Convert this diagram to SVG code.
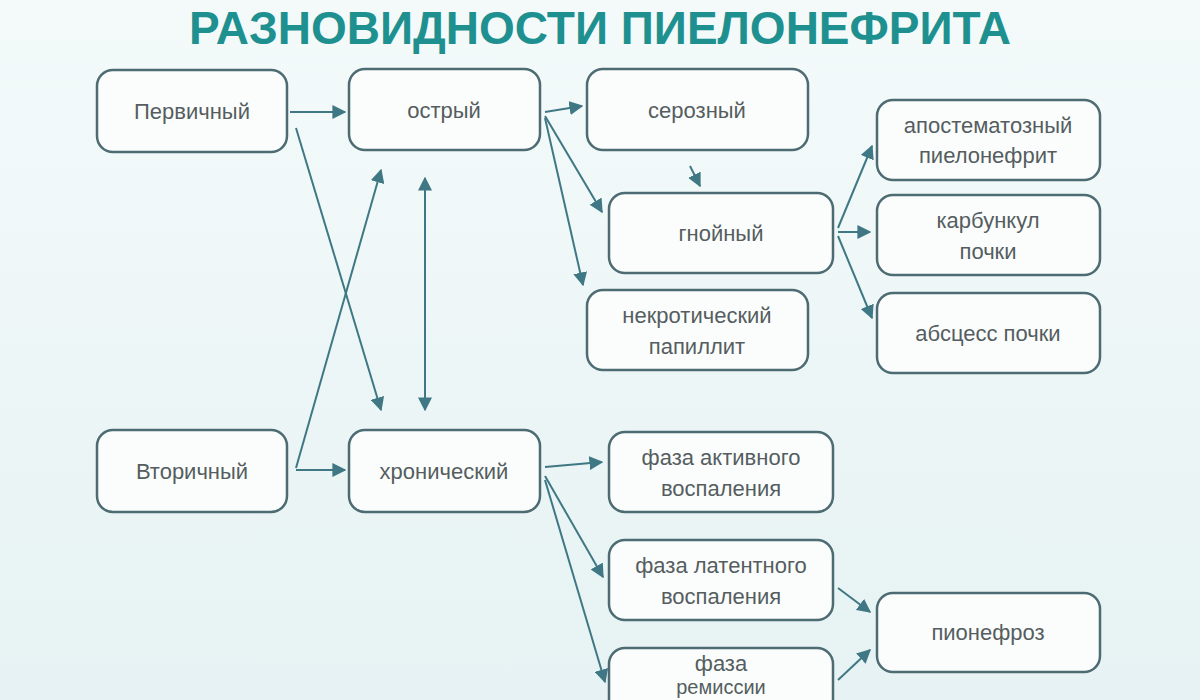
<svg xmlns="http://www.w3.org/2000/svg" width="1200" height="700" viewBox="0 0 1200 700">
<defs>
<linearGradient id="bg" x1="0" y1="0" x2="0" y2="1"><stop offset="0" stop-color="#f4fafa"/><stop offset="1" stop-color="#e6f2f3"/></linearGradient>
<marker id="ah" viewBox="0 0 10 10" refX="9" refY="5" markerWidth="7" markerHeight="7" orient="auto-start-reverse"><path d="M0,0 L10,5 L0,10 z" fill="#3f7884"/></marker>
<style>
.b{fill:#fbfdfd;stroke:#4d6b72;stroke-width:2.5}
.t{font-family:"Liberation Sans",Arial,sans-serif;font-size:22px;fill:#555d60;text-anchor:middle}
.c{stroke:#3f7884;stroke-width:2;fill:none;marker-end:url(#ah)}
</style>
</defs>
<rect width="1200" height="700" fill="url(#bg)"/>
<text x="600" y="44" font-family="Liberation Sans,Arial,sans-serif" font-weight="bold" font-size="46" fill="#1f9090" text-anchor="middle">РАЗНОВИДНОСТИ ПИЕЛОНЕФРИТА</text>
<g id="n1"><rect class="b" x="97" y="70" width="190" height="82" rx="16"/><text class="t" x="192" y="119">Первичный</text></g>
<g id="n2"><rect class="b" x="349" y="69" width="191" height="81" rx="16"/><text class="t" x="444" y="118">острый</text></g>
<g id="n3"><rect class="b" x="587" y="69" width="221" height="81" rx="16"/><text class="t" x="697" y="118">серозный</text></g>
<g id="n4"><rect class="b" x="877" y="100" width="223" height="80" rx="16"/><text class="t" x="988" y="133">апостематозный</text><text class="t" x="988" y="163">пиелонефрит</text></g>
<g id="n5"><rect class="b" x="609" y="193" width="224" height="80" rx="16"/><text class="t" x="721" y="241">гнойный</text></g>
<g id="n6"><rect class="b" x="877" y="195" width="223" height="80" rx="16"/><text class="t" x="988" y="228">карбункул</text><text class="t" x="988" y="259">почки</text></g>
<g id="n7"><rect class="b" x="877" y="293" width="223" height="80" rx="16"/><text class="t" x="988" y="341">абсцесс почки</text></g>
<g id="n8"><rect class="b" x="587" y="290" width="221" height="80" rx="16"/><text class="t" x="697" y="323">некротический</text><text class="t" x="697" y="354">папиллит</text></g>
<g id="n9"><rect class="b" x="97" y="430" width="190" height="82" rx="16"/><text class="t" x="192" y="479">Вторичный</text></g>
<g id="n10"><rect class="b" x="349" y="430" width="191" height="82" rx="16"/><text class="t" x="444" y="479">хронический</text></g>
<g id="n11"><rect class="b" x="609" y="432" width="224" height="80" rx="16"/><text class="t" x="721" y="465">фаза активного</text><text class="t" x="721" y="496">воспаления</text></g>
<g id="n12"><rect class="b" x="609" y="540" width="224" height="80" rx="16"/><text class="t" x="721" y="573">фаза латентного</text><text class="t" x="721" y="604">воспаления</text></g>
<g id="n13"><rect class="b" x="877" y="593" width="223" height="79" rx="16"/><text class="t" x="988" y="640">пионефроз</text></g>
<g id="n14"><rect class="b" x="609" y="648" width="224" height="80" rx="16"/><text class="t" x="721" y="671">фаза</text><text class="t" x="721" y="694" style="font-size:20px">ремиссии</text></g>
<g id="connectors">
<path class="c" d="M290,112 L345,112"/>
<path class="c" d="M296,128 L381,410"/>
<path class="c" d="M296,468 L381,170"/>
<path class="c" d="M296,470 L345,470"/>
<path class="c" d="M425,410 L425,178" style="marker-start:url(#ah)"/>
<path class="c" d="M545,112 L582,106"/>
<path class="c" d="M545,116 L602,212"/>
<path class="c" d="M545,118 L583,285"/>
<path class="c" d="M690,166 L700,186"/>
<path class="c" d="M838,228 L872,146"/>
<path class="c" d="M838,232 L870,232"/>
<path class="c" d="M838,236 L872,318"/>
<path class="c" d="M545,467 L602,462"/>
<path class="c" d="M545,476 L603,577"/>
<path class="c" d="M545,480 L605,682"/>
<path class="c" d="M838,588 L870,612"/>
<path class="c" d="M838,680 L870,650"/>
</g>
</svg>
